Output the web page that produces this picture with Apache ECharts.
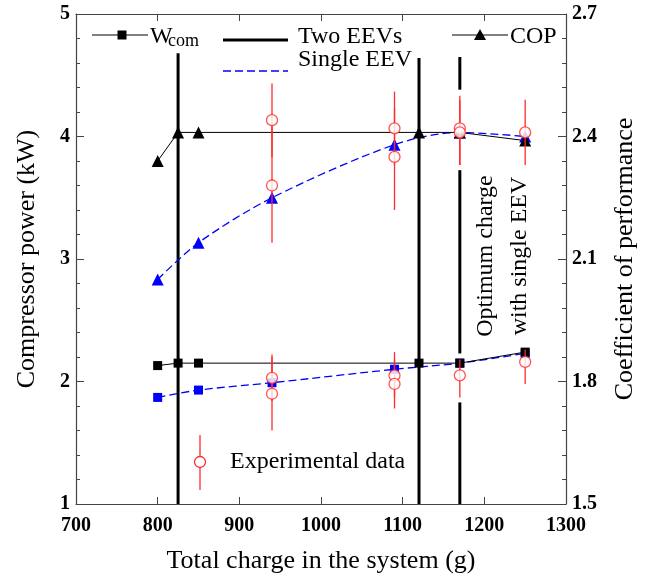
<!DOCTYPE html>
<html>
<head>
<meta charset="utf-8">
<script src="https://cdn.jsdelivr.net/npm/echarts@6/dist/echarts.min.js"></script>
<style>
  html, body { margin: 0; padding: 0; background: #fff; }
  #main { width: 654px; height: 579px; }
</style>
</head>
<body>
<div id="main"></div>
<script>
// axis ranges
const xMin = 700, xMax = 1300, xStep = 100;
const wMin = 1, wMax = 5, wStep = 1;
const copMin = 1.5, copMax = 2.7, copStep = 0.3;

// two EEVs (black)
const twoCharge = [800, 825, 850, 1120, 1170, 1250];
const twoWcom = [2.13, 2.15, 2.15, 2.15, 2.15, 2.24];
const twoCop = [2.34, 2.41, 2.41, 2.41, 2.41, 2.39];

// single EEV (blue, dashed)
const singleCharge = [800, 850, 940, 1090, 1170, 1250];
const singleWcom = [1.87, 1.93, 1.99, 2.10, 2.15, 2.23];
const singleCop = [2.05, 2.14, 2.25, 2.38, 2.41, 2.40];

// experimental data, COP
const expCopCharge = [940, 940, 1090, 1090, 1170, 1170, 1250];
const expCop = [2.44, 2.28, 2.42, 2.35, 2.42, 2.41, 2.41];
const expCopLow = [2.35, 2.14, 2.33, 2.22, 2.33, 2.33, 2.33];
const expCopHigh = [2.53, 2.43, 2.51, 2.47, 2.50, 2.49, 2.49];

// experimental data, compressor power
const expWCharge = [940, 940, 1090, 1090, 1170, 1250];
const expW = [2.03, 1.90, 2.05, 1.98, 2.05, 2.16];
const expWLow = [1.84, 1.60, 1.87, 1.78, 1.87, 1.98];
const expWHigh = [2.22, 2.20, 2.24, 2.18, 2.18, 2.26];

// vertical reference lines (charge, top in kW)
const refCharge = [825, 1120, 1170];
const refTop = [4.68, 4.64, 4.65];

const serif = "Liberation Serif";
const blue = "#0000ff";
const red = "#ff2a2a";
const axisColor = "#444";

function pairs(xs, ys) {
  return xs.map((x, i) => [x, ys[i]]);
}
function bars(xs, lo, hi) {
  return xs.map((x, i) => [x, lo[i], hi[i]]);
}

function renderBar(params, api) {
  const top = api.coord([api.value(0), api.value(2)]);
  const bot = api.coord([api.value(0), api.value(1)]);
  return {
    type: "line",
    shape: { x1: top[0], y1: top[1], x2: bot[0], y2: bot[1] },
    style: { stroke: red, lineWidth: 1.3 }
  };
}
// white strip under the error bars, hides the reference line behind them
function renderKnockout(params, api) {
  const top = api.coord([api.value(0), api.value(2)]);
  const bot = api.coord([api.value(0), api.value(1)]);
  return {
    type: "rect",
    shape: { x: top[0] - 3, y: top[1] - 6, width: 6, height: bot[1] - top[1] + 11 },
    style: { fill: "#fff" }
  };
}

const tickFont = { fontFamily: serif, fontWeight: 700, fontSize: 20, color: "#000" };

function yAxisBase(min, max, step) {
  return {
    type: "value",
    min: min,
    max: max,
    interval: step,
    axisLine: { show: true, lineStyle: { color: axisColor, width: 1.2 } },
    axisTick: { show: true, inside: true, length: 8, lineStyle: { color: axisColor } },
    minorTick: { show: true, splitNumber: 5, length: 4, lineStyle: { color: axisColor } },
    splitLine: { show: false },
    nameLocation: "middle",
    nameRotate: 90,
    nameTextStyle: { fontFamily: serif, fontSize: 26, color: "#000" }
  };
}

const chart = echarts.init(document.getElementById("main"));

const refSeries = refCharge.map((c, i) => ({
  type: "line",
  data: [[c, refTop[i]], [c, wMin]],
  yAxisIndex: 0,
  symbol: "none",
  lineStyle: { color: "#000", width: 3 },
  silent: true,
  z: 1
}));

const option = {
  animation: false,
  grid: { left: 76, right: 88, top: 14, bottom: 75 },
  xAxis: [
    {
      type: "value",
      min: xMin,
      max: xMax,
      interval: xStep,
      axisLine: { show: true, lineStyle: { color: axisColor, width: 1.2 } },
      axisTick: { show: true, inside: true, length: 7, lineStyle: { color: axisColor } },
      splitLine: { show: false },
      axisLabel: Object.assign({ margin: 12, formatter: v => String(v) }, tickFont),
      name: "Total charge in the system (g)",
      nameLocation: "middle",
      nameGap: 44,
      nameTextStyle: { fontFamily: serif, fontSize: 26, color: "#000" }
    },
    {
      type: "value",
      position: "top",
      min: xMin,
      max: xMax,
      interval: xStep,
      axisLine: { show: true, lineStyle: { color: axisColor, width: 1.2 } },
      axisTick: { show: true, inside: true, length: 7, lineStyle: { color: axisColor } },
      axisLabel: { show: false },
      splitLine: { show: false }
    }
  ],
  yAxis: [
    Object.assign(yAxisBase(wMin, wMax, wStep), {
      position: "left",
      name: "Compressor power (kW)",
      nameGap: 36,
      axisLabel: Object.assign({ margin: 6, formatter: v => String(v) }, tickFont)
    }),
    Object.assign(yAxisBase(copMin, copMax, copStep), {
      position: "right",
      name: "Coefficient of performance",
      nameGap: 46,
      axisLabel: Object.assign({ margin: 6, formatter: v => v.toFixed(1) }, tickFont)
    })
  ],
  series: refSeries.concat([
    {
      type: "custom",
      yAxisIndex: 1,
      data: bars(expCopCharge, expCopLow, expCopHigh),
      renderItem: renderKnockout,
      silent: true,
      z: 2
    },
    {
      type: "custom",
      yAxisIndex: 0,
      data: bars(expWCharge, expWLow, expWHigh),
      renderItem: renderKnockout,
      silent: true,
      z: 2
    },
    {
      name: "Single EEV W",
      type: "line",
      yAxisIndex: 0,
      data: pairs(singleCharge, singleWcom),
      smooth: 0.3,
      symbol: "rect",
      symbolSize: 9,
      showSymbol: true,
      itemStyle: { color: blue },
      lineStyle: { color: blue, width: 1.3, type: [8, 4] },
      z: 3
    },
    {
      name: "Single EEV COP",
      type: "line",
      yAxisIndex: 1,
      data: pairs(singleCharge, singleCop),
      smooth: 0.3,
      symbol: "triangle",
      symbolSize: 12,
      showSymbol: true,
      itemStyle: { color: blue },
      lineStyle: { color: blue, width: 1.3, type: [8, 4] },
      z: 3
    },
    {
      name: "Two EEVs W",
      type: "line",
      yAxisIndex: 0,
      data: pairs(twoCharge, twoWcom),
      symbol: "rect",
      symbolSize: 9,
      showSymbol: true,
      itemStyle: { color: "#000" },
      lineStyle: { color: "#000", width: 1 },
      z: 3
    },
    {
      name: "Two EEVs COP",
      type: "line",
      yAxisIndex: 1,
      data: pairs(twoCharge, twoCop),
      symbol: "triangle",
      symbolSize: 12,
      showSymbol: true,
      itemStyle: { color: "#000" },
      lineStyle: { color: "#000", width: 1 },
      z: 3
    },
    {
      type: "custom",
      yAxisIndex: 1,
      data: bars(expCopCharge, expCopLow, expCopHigh),
      renderItem: renderBar,
      z: 4
    },
    {
      type: "custom",
      yAxisIndex: 0,
      data: bars(expWCharge, expWLow, expWHigh),
      renderItem: renderBar,
      z: 4
    },
    {
      type: "scatter",
      yAxisIndex: 1,
      data: pairs(expCopCharge, expCop),
      symbol: "circle",
      symbolSize: 11,
      itemStyle: { color: "#fff", borderColor: red, borderWidth: 1.3 },
      z: 5
    },
    {
      type: "scatter",
      yAxisIndex: 0,
      data: pairs(expWCharge, expW),
      symbol: "circle",
      symbolSize: 11,
      itemStyle: { color: "#fff", borderColor: red, borderWidth: 1.3 },
      z: 5
    }
  ]),
  graphic: [
    // legend: W_com
    { type: "line", shape: { x1: 92, y1: 35, x2: 148, y2: 35 }, style: { stroke: "#000", lineWidth: 1 }, z: 10 },
    { type: "rect", shape: { x: 117.5, y: 30.5, width: 9, height: 9 }, style: { fill: "#000" }, z: 10 },
    { type: "text", x: 150, y: 37, style: { text: "W", font: "24px " + serif, fill: "#000", verticalAlign: "middle" }, z: 10 },
    { type: "text", x: 168, y: 41, style: { text: "com", font: "18px " + serif, fill: "#000", verticalAlign: "middle" }, z: 10 },
    // legend: Two EEVs
    { type: "line", shape: { x1: 223, y1: 40, x2: 288, y2: 40 }, style: { stroke: "#000", lineWidth: 3 }, z: 10 },
    { type: "text", x: 298, y: 37, style: { text: "Two EEVs", font: "24px " + serif, fill: "#000", verticalAlign: "middle" }, z: 10 },
    // legend: COP
    { type: "line", shape: { x1: 452, y1: 35, x2: 508, y2: 35 }, style: { stroke: "#000", lineWidth: 1 }, z: 10 },
    { type: "polygon", shape: { points: [[480, 29], [486, 40], [474, 40]] }, style: { fill: "#000" }, z: 10 },
    { type: "text", x: 510, y: 37, style: { text: "COP", font: "24px " + serif, fill: "#000", verticalAlign: "middle" }, z: 10 },
    // legend: Single EEV
    { type: "line", shape: { x1: 223, y1: 71, x2: 288, y2: 71 }, style: { stroke: blue, lineWidth: 1.3, lineDash: [8, 4] }, z: 10 },
    { type: "text", x: 298, y: 60, style: { text: "Single EEV", font: "24px " + serif, fill: "#000", verticalAlign: "middle" }, z: 10 },
    // legend: experimental data
    { type: "line", shape: { x1: 200, y1: 435, x2: 200, y2: 490 }, style: { stroke: red, lineWidth: 1.3 }, z: 10 },
    { type: "circle", shape: { cx: 200, cy: 462, r: 5.5 }, style: { fill: "#fff", stroke: red, lineWidth: 1.3 }, z: 11 },
    { type: "text", x: 230, y: 462, style: { text: "Experimental data", font: "24px " + serif, fill: "#000", verticalAlign: "middle" }, z: 10 },
    // annotation
    {
      type: "text", x: 503, y: 256, rotation: Math.PI / 2,
      style: {
        text: "Optimum charge\nwith single EEV", font: "24px " + serif, fill: "#000",
        align: "center", verticalAlign: "middle", lineHeight: 34
      },
      z: 10
    }
  ]
};

chart.setOption(option);
window.addEventListener("resize", chart.resize);
</script>
</body>
</html>
